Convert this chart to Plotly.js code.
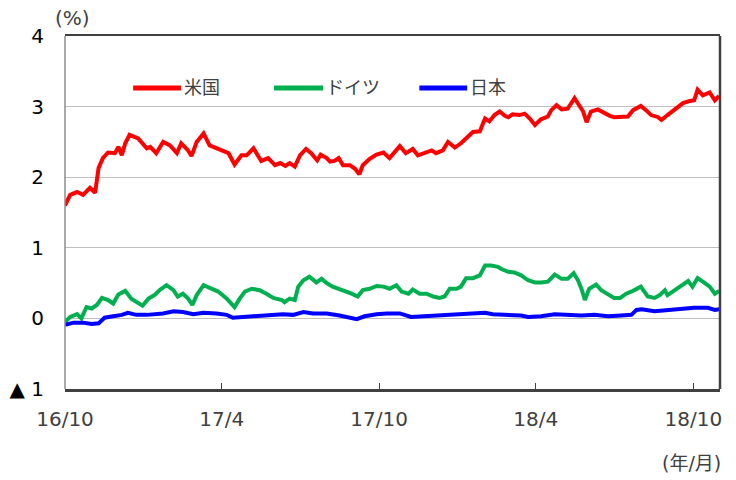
<!DOCTYPE html>
<html>
<head>
<meta charset="utf-8">
<script src="https://cdn.plot.ly/plotly-3.0.1.min.js"></script>
<style>
html,body{margin:0;padding:0;background:#fff;}
#chart{width:736px;height:480px;}
</style>
</head>
<body>
<div id="chart"></div>
<script>
// ---- Data (10-year government bond yields, %) ----
const seriesNames = ['米国', 'ドイツ', '日本'];
const seriesColors = ['#FF0000', '#00B050', '#0000FF'];

const usDates = ['2016-10-01','2016-10-07','2016-10-15','2016-10-22','2016-10-30','2016-11-05','2016-11-09','2016-11-14','2016-11-20','2016-11-28','2016-12-02','2016-12-06','2016-12-10','2016-12-15','2016-12-25','2017-01-04','2017-01-08','2017-01-15','2017-01-23','2017-01-31','2017-02-08','2017-02-13','2017-02-21','2017-02-25','2017-03-03','2017-03-11','2017-03-18','2017-03-26','2017-04-03','2017-04-09','2017-04-16','2017-04-24','2017-04-30','2017-05-08','2017-05-17','2017-05-25','2017-06-02','2017-06-08','2017-06-14','2017-06-19','2017-06-25','2017-07-01','2017-07-08','2017-07-14','2017-07-21','2017-07-25','2017-08-01','2017-08-05','2017-08-10','2017-08-15','2017-08-20','2017-08-28','2017-09-03','2017-09-08','2017-09-12','2017-09-20','2017-09-28','2017-10-06','2017-10-13','2017-10-19','2017-10-25','2017-11-01','2017-11-09','2017-11-15','2017-11-21','2017-12-01','2017-12-06','2017-12-14','2017-12-20','2017-12-28','2018-01-04','2018-01-10','2018-01-18','2018-01-26','2018-02-01','2018-02-06','2018-02-12','2018-02-18','2018-02-24','2018-02-28','2018-03-05','2018-03-13','2018-03-19','2018-03-25','2018-03-31','2018-04-07','2018-04-15','2018-04-19','2018-04-25','2018-05-01','2018-05-08','2018-05-16','2018-05-22','2018-05-26','2018-05-30','2018-06-04','2018-06-12','2018-06-18','2018-06-26','2018-07-01','2018-07-09','2018-07-17','2018-07-23','2018-08-01','2018-08-07','2018-08-13','2018-08-21','2018-08-25','2018-09-01','2018-09-11','2018-09-19','2018-09-27','2018-10-02','2018-10-06','2018-10-12','2018-10-20','2018-10-26','2018-10-31'];
const usValues = [1.60,1.75,1.79,1.75,1.85,1.78,2.13,2.27,2.35,2.34,2.43,2.31,2.48,2.60,2.55,2.41,2.43,2.34,2.50,2.45,2.34,2.48,2.38,2.30,2.50,2.62,2.45,2.41,2.36,2.34,2.18,2.31,2.31,2.41,2.23,2.27,2.17,2.20,2.16,2.20,2.15,2.31,2.40,2.34,2.24,2.32,2.27,2.22,2.23,2.27,2.17,2.17,2.12,2.04,2.17,2.26,2.32,2.35,2.27,2.36,2.44,2.34,2.40,2.31,2.34,2.38,2.34,2.38,2.50,2.42,2.48,2.55,2.64,2.65,2.83,2.79,2.88,2.93,2.87,2.85,2.89,2.88,2.90,2.83,2.74,2.82,2.86,2.95,3.02,2.96,2.97,3.12,3.02,2.93,2.78,2.93,2.96,2.92,2.87,2.85,2.85,2.86,2.95,3.01,2.95,2.88,2.85,2.81,2.88,2.97,3.05,3.08,3.09,3.24,3.16,3.20,3.09,3.15];

const deDates = ['2016-10-01','2016-10-07','2016-10-15','2016-10-20','2016-10-26','2016-11-01','2016-11-07','2016-11-13','2016-11-20','2016-11-26','2016-12-02','2016-12-10','2016-12-17','2016-12-25','2016-12-30','2017-01-06','2017-01-13','2017-01-19','2017-01-27','2017-02-04','2017-02-09','2017-02-15','2017-02-21','2017-02-26','2017-03-03','2017-03-11','2017-03-20','2017-03-28','2017-04-07','2017-04-16','2017-04-22','2017-04-28','2017-05-06','2017-05-15','2017-05-23','2017-05-31','2017-06-10','2017-06-13','2017-06-19','2017-06-25','2017-06-29','2017-07-05','2017-07-12','2017-07-20','2017-07-26','2017-08-01','2017-08-08','2017-08-15','2017-08-22','2017-08-30','2017-09-06','2017-09-12','2017-09-20','2017-09-28','2017-10-06','2017-10-13','2017-10-21','2017-10-27','2017-11-04','2017-11-09','2017-11-17','2017-11-25','2017-12-03','2017-12-10','2017-12-16','2017-12-22','2017-12-30','2018-01-04','2018-01-10','2018-01-18','2018-01-26','2018-02-01','2018-02-08','2018-02-16','2018-02-20','2018-02-28','2018-03-07','2018-03-15','2018-03-23','2018-03-31','2018-04-07','2018-04-15','2018-04-23','2018-05-01','2018-05-08','2018-05-15','2018-05-20','2018-05-24','2018-05-28','2018-06-02','2018-06-10','2018-06-16','2018-06-24','2018-07-01','2018-07-08','2018-07-15','2018-07-23','2018-08-01','2018-08-09','2018-08-17','2018-08-23','2018-08-29','2018-09-01','2018-09-09','2018-09-17','2018-09-25','2018-09-30','2018-10-06','2018-10-12','2018-10-20','2018-10-26','2018-10-31'];
const deValues = [-0.05,0.02,0.06,0.00,0.16,0.14,0.19,0.29,0.26,0.21,0.34,0.39,0.28,0.21,0.18,0.28,0.33,0.40,0.47,0.40,0.31,0.35,0.28,0.19,0.33,0.47,0.42,0.38,0.28,0.16,0.28,0.38,0.42,0.40,0.35,0.29,0.26,0.23,0.28,0.26,0.45,0.54,0.59,0.51,0.56,0.50,0.45,0.42,0.39,0.35,0.31,0.40,0.42,0.46,0.45,0.42,0.47,0.38,0.35,0.41,0.35,0.35,0.31,0.29,0.31,0.42,0.42,0.45,0.57,0.57,0.61,0.75,0.75,0.73,0.70,0.66,0.65,0.61,0.54,0.51,0.51,0.52,0.62,0.56,0.56,0.64,0.54,0.42,0.26,0.42,0.48,0.40,0.34,0.29,0.29,0.35,0.39,0.45,0.31,0.29,0.33,0.40,0.33,0.40,0.46,0.53,0.45,0.57,0.52,0.45,0.35,0.39];

const jpDates = ['2016-10-01','2016-10-11','2016-10-22','2016-11-01','2016-11-09','2016-11-16','2016-11-26','2016-12-06','2016-12-13','2016-12-23','2017-01-04','2017-01-15','2017-01-23','2017-02-04','2017-02-15','2017-02-27','2017-03-11','2017-03-26','2017-04-07','2017-04-14','2017-04-26','2017-05-12','2017-05-27','2017-06-11','2017-06-23','2017-07-05','2017-07-16','2017-08-01','2017-08-16','2017-08-26','2017-09-05','2017-09-14','2017-09-28','2017-10-10','2017-10-25','2017-11-07','2017-11-21','2017-12-06','2017-12-22','2018-01-06','2018-01-22','2018-02-01','2018-02-10','2018-02-24','2018-03-15','2018-03-23','2018-04-07','2018-04-23','2018-05-08','2018-05-24','2018-06-08','2018-06-24','2018-07-09','2018-07-21','2018-07-27','2018-08-02','2018-08-17','2018-09-01','2018-09-17','2018-10-02','2018-10-18','2018-10-26','2018-10-31'];
const jpValues = [-0.09,-0.06,-0.06,-0.08,-0.07,0.01,0.03,0.05,0.08,0.05,0.05,0.06,0.07,0.10,0.09,0.06,0.08,0.07,0.05,0.01,0.02,0.04,0.05,0.06,0.05,0.09,0.07,0.07,0.04,0.01,-0.01,0.03,0.06,0.07,0.07,0.02,0.03,0.05,0.05,0.07,0.07,0.08,0.06,0.05,0.04,0.02,0.03,0.06,0.05,0.04,0.05,0.03,0.04,0.05,0.12,0.13,0.10,0.12,0.13,0.15,0.15,0.12,0.13];

const yTickValues = [-1, 0, 1, 2, 3, 4];
const yTickLabels = ['▲ 1', '0', '1', '2', '3', '4'];
const xRange = ['2016-10-01', '2018-11-01'];
const yUnitLabel = '(%)';
const xUnitLabel = '(年/月)';

// ---- Chart ----
const FONT = 'DejaVu Sans, "Noto Sans CJK JP", sans-serif';
const allDates = [usDates, deDates, jpDates];
const allValues = [usValues, deValues, jpValues];

const traces = seriesNames.map((name, i) => ({
  type: 'scatter',
  mode: 'lines',
  name: name,
  x: allDates[i],
  y: allValues[i],
  line: {color: seriesColors[i], width: 4},
  showlegend: false
}));

// custom legend (line sample + label), positioned in paper coordinates
const legendY = 0.853;
const legendX = [[0.104, 0.177], [0.319, 0.394], [0.541, 0.614]];
const shapes = [];
const annotations = [];
seriesNames.forEach((name, i) => {
  shapes.push({type: 'line', xref: 'paper', yref: 'paper',
    x0: legendX[i][0], x1: legendX[i][1], y0: legendY, y1: legendY,
    line: {color: seriesColors[i], width: 5}});
  annotations.push({xref: 'paper', yref: 'paper', x: legendX[i][1] + 0.001, y: legendY,
    xanchor: 'left', yanchor: 'middle', showarrow: false, text: name,
    font: {family: FONT, size: 18, color: '#404040'}});
});
// frame: left gray, right dark
shapes.push({type: 'line', xref: 'paper', yref: 'paper', x0: 0, x1: 0, y0: 0, y1: 1,
  line: {color: '#8c8c8c', width: 1.5}});
shapes.push({type: 'line', xref: 'paper', yref: 'paper', x0: 1, x1: 1, y0: 0, y1: 1,
  line: {color: '#404040', width: 2.5}});

annotations.push({xref: 'paper', yref: 'paper', x: 0.011, y: 1.05, xanchor: 'center', yanchor: 'middle',
  showarrow: false, text: yUnitLabel, font: {family: FONT, size: 20, color: '#404040'}});
annotations.push({xref: 'paper', yref: 'paper', x: 1.005, y: -0.21, xanchor: 'right', yanchor: 'middle',
  showarrow: false, text: xUnitLabel, font: {family: FONT, size: 19, color: '#404040'}});

const layout = {
  width: 736, height: 480,
  margin: {l: 65, r: 16, t: 36, b: 91},
  paper_bgcolor: '#ffffff', plot_bgcolor: '#ffffff',
  font: {family: FONT, size: 20, color: '#404040'},
  showlegend: false,
  xaxis: {
    type: 'date', range: xRange,
    tick0: '2016-10-01', dtick: 'M6', tickformat: '%y/%-m',
    ticks: 'inside', ticklen: 6, tickcolor: '#404040', tickwidth: 1,
    showgrid: false, zeroline: false,
    showline: true, mirror: true, linecolor: '#404040', linewidth: 2.5,
    tickfont: {family: FONT, size: 20, color: '#404040'},
    ticklabelstandoff: 10
  },
  yaxis: {
    range: [-1, 4], tickvals: yTickValues, ticktext: yTickLabels,
    ticks: '', showline: false, zeroline: false,
    showgrid: true, gridcolor: '#bfbfbf', gridwidth: 1,
    tickfont: {family: FONT, size: 20, color: '#000000'},
    ticklabelstandoff: 20
  },
  shapes: shapes,
  annotations: annotations
};

Plotly.newPlot('chart', traces, layout, {staticPlot: true, displayModeBar: false});
</script>
</body>
</html>
